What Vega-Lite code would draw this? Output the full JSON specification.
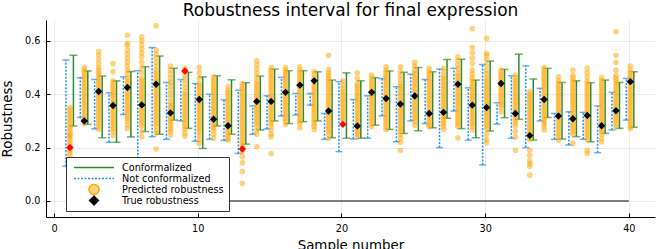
{
"$schema":"https://vega.github.io/schema/vega-lite/v6.json",
"width":609,"height":197,
"autosize":{"type":"none"},
"padding":{"left":46,"right":9,"top":20,"bottom":32},
"background":"white",
"title":{"text":"Robustness interval for final expression","fontSize":17,"font":"DejaVu Sans","fontWeight":"normal","color":"black","anchor":"middle","offset":0},
"config":{"view":{"stroke":null},"font":"DejaVu Sans",
 "axis":{"grid":true,"gridColor":"#e6e6e6","gridWidth":0.8,"domainColor":"black","domainWidth":1,"tickColor":"black","tickSize":-4,"labelPadding":10,"labelFontSize":9.7,"labelColor":"black","labelFont":"DejaVu Sans","titleFont":"DejaVu Sans","titleFontSize":13.4,"titleFontWeight":"normal","titleColor":"black","labelFlush":false}},
"datasets":{
"zero":[{"s":1,"y":0},{"s":40,"y":0}],
"iv":[
{"s":1,"blo":0.13,"bhi":0.528,"glo":0.281,"ghi":0.546,"t":0.2,"red":1},
{"s":2,"blo":0.313,"bhi":0.462,"glo":0.287,"ghi":0.487,"t":0.3,"red":0},
{"s":3,"blo":0.27,"bhi":0.455,"glo":0.237,"ghi":0.468,"t":0.41,"red":0},
{"s":4,"blo":0.22,"bhi":0.405,"glo":0.22,"ghi":0.45,"t":0.358,"red":0},
{"s":5,"blo":0.324,"bhi":0.465,"glo":0.24,"ghi":0.485,"t":0.425,"red":0},
{"s":6,"blo":0.12,"bhi":0.488,"glo":0.26,"ghi":0.503,"t":0.36,"red":0},
{"s":7,"blo":0.241,"bhi":0.575,"glo":0.25,"ghi":0.543,"t":0.437,"red":0},
{"s":8,"blo":0.231,"bhi":0.444,"glo":0.303,"ghi":0.497,"t":0.33,"red":0},
{"s":9,"blo":0.3,"bhi":0.455,"glo":0.272,"ghi":0.482,"t":0.487,"red":1},
{"s":10,"blo":0.224,"bhi":0.44,"glo":0.197,"ghi":0.465,"t":0.38,"red":0},
{"s":11,"blo":0.231,"bhi":0.4,"glo":0.281,"ghi":0.469,"t":0.306,"red":0},
{"s":12,"blo":0.227,"bhi":0.379,"glo":0.25,"ghi":0.454,"t":0.282,"red":0},
{"s":13,"blo":0.178,"bhi":0.415,"glo":0.213,"ghi":0.443,"t":0.195,"red":1},
{"s":14,"blo":0.25,"bhi":0.356,"glo":0.266,"ghi":0.468,"t":0.373,"red":0},
{"s":15,"blo":0.27,"bhi":0.394,"glo":0.3,"ghi":0.494,"t":0.373,"red":0},
{"s":16,"blo":0.318,"bhi":0.463,"glo":0.29,"ghi":0.488,"t":0.407,"red":0},
{"s":17,"blo":0.322,"bhi":0.403,"glo":0.297,"ghi":0.488,"t":0.434,"red":0},
{"s":18,"blo":0.359,"bhi":0.403,"glo":0.3,"ghi":0.484,"t":0.45,"red":0},
{"s":19,"blo":0.231,"bhi":0.328,"glo":0.237,"ghi":0.453,"t":0.337,"red":0},
{"s":20,"blo":0.185,"bhi":0.447,"glo":0.235,"ghi":0.48,"t":0.287,"red":1},
{"s":21,"blo":0.232,"bhi":0.38,"glo":0.235,"ghi":0.45,"t":0.281,"red":0},
{"s":22,"blo":0.235,"bhi":0.394,"glo":0.284,"ghi":0.462,"t":0.407,"red":0},
{"s":23,"blo":0.319,"bhi":0.459,"glo":0.268,"ghi":0.487,"t":0.384,"red":0},
{"s":24,"blo":0.222,"bhi":0.428,"glo":0.253,"ghi":0.482,"t":0.363,"red":0},
{"s":25,"blo":0.3,"bhi":0.475,"glo":0.263,"ghi":0.5,"t":0.393,"red":0},
{"s":26,"blo":0.29,"bhi":0.455,"glo":0.274,"ghi":0.484,"t":0.328,"red":0},
{"s":27,"blo":0.2,"bhi":0.494,"glo":0.31,"ghi":0.53,"t":0.332,"red":0},
{"s":28,"blo":0.337,"bhi":0.497,"glo":0.271,"ghi":0.531,"t":0.437,"red":0},
{"s":29,"blo":0.228,"bhi":0.424,"glo":0.237,"ghi":0.453,"t":0.359,"red":0},
{"s":30,"blo":0.135,"bhi":0.511,"glo":0.262,"ghi":0.524,"t":0.35,"red":0},
{"s":31,"blo":0.288,"bhi":0.368,"glo":0.312,"ghi":0.493,"t":0.44,"red":0},
{"s":32,"blo":0.235,"bhi":0.469,"glo":0.306,"ghi":0.55,"t":0.328,"red":0},
{"s":33,"blo":0.2,"bhi":0.506,"glo":0.228,"ghi":0.457,"t":0.245,"red":0},
{"s":34,"blo":0.3,"bhi":0.422,"glo":0.313,"ghi":0.497,"t":0.38,"red":0},
{"s":35,"blo":0.231,"bhi":0.328,"glo":0.232,"ghi":0.444,"t":0.318,"red":0},
{"s":36,"blo":0.21,"bhi":0.334,"glo":0.241,"ghi":0.45,"t":0.308,"red":0},
{"s":37,"blo":0.231,"bhi":0.332,"glo":0.222,"ghi":0.443,"t":0.32,"red":0},
{"s":38,"blo":0.181,"bhi":0.356,"glo":0.253,"ghi":0.453,"t":0.282,"red":0},
{"s":39,"blo":0.266,"bhi":0.407,"glo":0.272,"ghi":0.444,"t":0.338,"red":0},
{"s":40,"blo":0.303,"bhi":0.459,"glo":0.276,"ghi":0.484,"t":0.447,"red":0}
],
"pred":[
{"s":1,"v":0.35},{"s":1,"v":0.34},{"s":1,"v":0.33},{"s":1,"v":0.32},{"s":1,"v":0.31},{"s":1,"v":0.30},{"s":1,"v":0.29},{"s":1,"v":0.28},{"s":1,"v":0.27},{"s":1,"v":0.26},{"s":1,"v":0.25},{"s":1,"v":0.245},{"s":1,"v":0.24},{"s":1,"v":0.23},{"s":1,"v":0.22},{"s":1,"v":0.21},{"s":1,"v":0.20},{"s":1,"v":0.19},{"s":1,"v":0.18},{"s":1,"v":0.17},
{"s":2,"v":0.50},{"s":2,"v":0.49},{"s":2,"v":0.48},{"s":2,"v":0.47},{"s":2,"v":0.46},{"s":2,"v":0.45},{"s":2,"v":0.44},{"s":2,"v":0.43},{"s":2,"v":0.42},{"s":2,"v":0.41},{"s":2,"v":0.40},{"s":2,"v":0.39},{"s":2,"v":0.38},{"s":2,"v":0.37},{"s":2,"v":0.36},{"s":2,"v":0.35},{"s":2,"v":0.34},{"s":2,"v":0.33},{"s":2,"v":0.32},{"s":2,"v":0.31},{"s":2,"v":0.30},{"s":2,"v":0.29},
{"s":3,"v":0.56},{"s":3,"v":0.547},{"s":3,"v":0.53},{"s":3,"v":0.515},{"s":3,"v":0.50},{"s":3,"v":0.49},{"s":3,"v":0.48},{"s":3,"v":0.47},{"s":3,"v":0.46},{"s":3,"v":0.45},{"s":3,"v":0.44},{"s":3,"v":0.43},{"s":3,"v":0.42},{"s":3,"v":0.41},{"s":3,"v":0.40},{"s":3,"v":0.39},{"s":3,"v":0.38},{"s":3,"v":0.37},{"s":3,"v":0.36},{"s":3,"v":0.35},{"s":3,"v":0.34},{"s":3,"v":0.33},{"s":3,"v":0.32},{"s":3,"v":0.31},{"s":3,"v":0.30},{"s":3,"v":0.29},{"s":3,"v":0.28},{"s":3,"v":0.268},
{"s":4,"v":0.515},{"s":4,"v":0.484},{"s":4,"v":0.45},{"s":4,"v":0.44},{"s":4,"v":0.43},{"s":4,"v":0.42},{"s":4,"v":0.41},{"s":4,"v":0.40},{"s":4,"v":0.39},{"s":4,"v":0.38},{"s":4,"v":0.37},{"s":4,"v":0.36},{"s":4,"v":0.35},{"s":4,"v":0.34},{"s":4,"v":0.33},{"s":4,"v":0.32},{"s":4,"v":0.31},{"s":4,"v":0.30},{"s":4,"v":0.29},{"s":4,"v":0.28},{"s":4,"v":0.27},{"s":4,"v":0.26},{"s":4,"v":0.245},
{"s":5,"v":0.621},{"s":5,"v":0.59},{"s":5,"v":0.584},{"s":5,"v":0.565},{"s":5,"v":0.55},{"s":5,"v":0.535},{"s":5,"v":0.52},{"s":5,"v":0.505},{"s":5,"v":0.49},{"s":5,"v":0.475},{"s":5,"v":0.46},{"s":5,"v":0.45},{"s":5,"v":0.44},{"s":5,"v":0.43},{"s":5,"v":0.42},{"s":5,"v":0.41},{"s":5,"v":0.40},{"s":5,"v":0.39},{"s":5,"v":0.38},{"s":5,"v":0.37},{"s":5,"v":0.36},{"s":5,"v":0.35},{"s":5,"v":0.34},{"s":5,"v":0.33},{"s":5,"v":0.32},{"s":5,"v":0.31},{"s":5,"v":0.30},{"s":5,"v":0.285},{"s":5,"v":0.272},
{"s":6,"v":0.615},{"s":6,"v":0.60},{"s":6,"v":0.585},{"s":6,"v":0.57},{"s":6,"v":0.555},{"s":6,"v":0.54},{"s":6,"v":0.52},{"s":6,"v":0.50},{"s":6,"v":0.48},{"s":6,"v":0.46},{"s":6,"v":0.45},{"s":6,"v":0.44},{"s":6,"v":0.43},{"s":6,"v":0.42},{"s":6,"v":0.41},{"s":6,"v":0.40},{"s":6,"v":0.39},{"s":6,"v":0.38},{"s":6,"v":0.37},{"s":6,"v":0.36},{"s":6,"v":0.35},{"s":6,"v":0.34},{"s":6,"v":0.33},{"s":6,"v":0.32},{"s":6,"v":0.31},{"s":6,"v":0.30},{"s":6,"v":0.29},{"s":6,"v":0.28},{"s":6,"v":0.26},{"s":6,"v":0.24},
{"s":7,"v":0.656},{"s":7,"v":0.565},{"s":7,"v":0.55},{"s":7,"v":0.535},{"s":7,"v":0.52},{"s":7,"v":0.505},{"s":7,"v":0.49},{"s":7,"v":0.48},{"s":7,"v":0.47},{"s":7,"v":0.46},{"s":7,"v":0.45},{"s":7,"v":0.44},{"s":7,"v":0.43},{"s":7,"v":0.42},{"s":7,"v":0.41},{"s":7,"v":0.40},{"s":7,"v":0.39},{"s":7,"v":0.38},{"s":7,"v":0.37},{"s":7,"v":0.36},{"s":7,"v":0.35},{"s":7,"v":0.34},{"s":7,"v":0.33},{"s":7,"v":0.32},{"s":7,"v":0.31},{"s":7,"v":0.30},{"s":7,"v":0.29},{"s":7,"v":0.28},{"s":7,"v":0.265},{"s":7,"v":0.253},{"s":7,"v":0.195},
{"s":8,"v":0.505},{"s":8,"v":0.49},{"s":8,"v":0.475},{"s":8,"v":0.46},{"s":8,"v":0.445},{"s":8,"v":0.43},{"s":8,"v":0.415},{"s":8,"v":0.40},{"s":8,"v":0.385},{"s":8,"v":0.37},{"s":8,"v":0.36},{"s":8,"v":0.35},{"s":8,"v":0.34},{"s":8,"v":0.33},{"s":8,"v":0.32},{"s":8,"v":0.31},{"s":8,"v":0.30},{"s":8,"v":0.29},{"s":8,"v":0.28},{"s":8,"v":0.27},{"s":8,"v":0.26},{"s":8,"v":0.247},
{"s":9,"v":0.497},{"s":9,"v":0.485},{"s":9,"v":0.47},{"s":9,"v":0.455},{"s":9,"v":0.44},{"s":9,"v":0.425},{"s":9,"v":0.41},{"s":9,"v":0.40},{"s":9,"v":0.39},{"s":9,"v":0.38},{"s":9,"v":0.37},{"s":9,"v":0.36},{"s":9,"v":0.35},{"s":9,"v":0.34},{"s":9,"v":0.33},{"s":9,"v":0.32},{"s":9,"v":0.31},{"s":9,"v":0.30},{"s":9,"v":0.29},{"s":9,"v":0.28},{"s":9,"v":0.27},{"s":9,"v":0.255},{"s":9,"v":0.243},
{"s":10,"v":0.50},{"s":10,"v":0.48},{"s":10,"v":0.46},{"s":10,"v":0.44},{"s":10,"v":0.43},{"s":10,"v":0.42},{"s":10,"v":0.41},{"s":10,"v":0.40},{"s":10,"v":0.39},{"s":10,"v":0.38},{"s":10,"v":0.37},{"s":10,"v":0.36},{"s":10,"v":0.35},{"s":10,"v":0.34},{"s":10,"v":0.33},{"s":10,"v":0.32},{"s":10,"v":0.31},{"s":10,"v":0.30},{"s":10,"v":0.29},{"s":10,"v":0.28},{"s":10,"v":0.27},{"s":10,"v":0.26},{"s":10,"v":0.245},{"s":10,"v":0.23},{"s":10,"v":0.216},
{"s":11,"v":0.465},{"s":11,"v":0.455},{"s":11,"v":0.445},{"s":11,"v":0.435},{"s":11,"v":0.425},{"s":11,"v":0.415},{"s":11,"v":0.405},{"s":11,"v":0.395},{"s":11,"v":0.385},{"s":11,"v":0.375},{"s":11,"v":0.365},{"s":11,"v":0.355},{"s":11,"v":0.345},{"s":11,"v":0.335},{"s":11,"v":0.325},{"s":11,"v":0.315},{"s":11,"v":0.305},{"s":11,"v":0.295},{"s":11,"v":0.285},{"s":11,"v":0.275},{"s":11,"v":0.265},{"s":11,"v":0.25},{"s":11,"v":0.235},
{"s":12,"v":0.428},{"s":12,"v":0.415},{"s":12,"v":0.405},{"s":12,"v":0.395},{"s":12,"v":0.385},{"s":12,"v":0.375},{"s":12,"v":0.365},{"s":12,"v":0.355},{"s":12,"v":0.345},{"s":12,"v":0.335},{"s":12,"v":0.325},{"s":12,"v":0.315},{"s":12,"v":0.305},{"s":12,"v":0.295},{"s":12,"v":0.285},{"s":12,"v":0.275},{"s":12,"v":0.265},{"s":12,"v":0.255},{"s":12,"v":0.245},{"s":12,"v":0.235},{"s":12,"v":0.228},
{"s":13,"v":0.44},{"s":13,"v":0.43},{"s":13,"v":0.42},{"s":13,"v":0.41},{"s":13,"v":0.40},{"s":13,"v":0.39},{"s":13,"v":0.38},{"s":13,"v":0.37},{"s":13,"v":0.36},{"s":13,"v":0.35},{"s":13,"v":0.34},{"s":13,"v":0.33},{"s":13,"v":0.32},{"s":13,"v":0.31},{"s":13,"v":0.30},{"s":13,"v":0.29},{"s":13,"v":0.28},{"s":13,"v":0.27},{"s":13,"v":0.26},{"s":13,"v":0.25},{"s":13,"v":0.24},{"s":13,"v":0.23},{"s":13,"v":0.22},{"s":13,"v":0.21},{"s":13,"v":0.20},{"s":13,"v":0.185},{"s":13,"v":0.166},{"s":13,"v":0.143},{"s":13,"v":0.11},{"s":13,"v":0.066},
{"s":14,"v":0.525},{"s":14,"v":0.51},{"s":14,"v":0.495},{"s":14,"v":0.48},{"s":14,"v":0.465},{"s":14,"v":0.45},{"s":14,"v":0.44},{"s":14,"v":0.43},{"s":14,"v":0.42},{"s":14,"v":0.41},{"s":14,"v":0.40},{"s":14,"v":0.39},{"s":14,"v":0.38},{"s":14,"v":0.37},{"s":14,"v":0.36},{"s":14,"v":0.35},{"s":14,"v":0.34},{"s":14,"v":0.33},{"s":14,"v":0.32},{"s":14,"v":0.31},{"s":14,"v":0.30},{"s":14,"v":0.29},{"s":14,"v":0.28},{"s":14,"v":0.265},{"s":14,"v":0.25},{"s":14,"v":0.203},
{"s":15,"v":0.50},{"s":15,"v":0.49},{"s":15,"v":0.48},{"s":15,"v":0.47},{"s":15,"v":0.46},{"s":15,"v":0.45},{"s":15,"v":0.44},{"s":15,"v":0.43},{"s":15,"v":0.42},{"s":15,"v":0.41},{"s":15,"v":0.40},{"s":15,"v":0.39},{"s":15,"v":0.38},{"s":15,"v":0.37},{"s":15,"v":0.36},{"s":15,"v":0.35},{"s":15,"v":0.34},{"s":15,"v":0.33},{"s":15,"v":0.32},{"s":15,"v":0.31},{"s":15,"v":0.30},{"s":15,"v":0.29},{"s":15,"v":0.28},{"s":15,"v":0.265},{"s":15,"v":0.25},{"s":15,"v":0.24},{"s":15,"v":0.178},
{"s":16,"v":0.50},{"s":16,"v":0.49},{"s":16,"v":0.48},{"s":16,"v":0.47},{"s":16,"v":0.46},{"s":16,"v":0.45},{"s":16,"v":0.44},{"s":16,"v":0.43},{"s":16,"v":0.42},{"s":16,"v":0.41},{"s":16,"v":0.40},{"s":16,"v":0.39},{"s":16,"v":0.38},{"s":16,"v":0.37},{"s":16,"v":0.36},{"s":16,"v":0.35},{"s":16,"v":0.34},{"s":16,"v":0.33},{"s":16,"v":0.32},{"s":16,"v":0.31},{"s":16,"v":0.30},{"s":16,"v":0.287},
{"s":17,"v":0.503},{"s":17,"v":0.49},{"s":17,"v":0.48},{"s":17,"v":0.47},{"s":17,"v":0.46},{"s":17,"v":0.45},{"s":17,"v":0.44},{"s":17,"v":0.43},{"s":17,"v":0.42},{"s":17,"v":0.41},{"s":17,"v":0.40},{"s":17,"v":0.39},{"s":17,"v":0.38},{"s":17,"v":0.37},{"s":17,"v":0.36},{"s":17,"v":0.35},{"s":17,"v":0.34},{"s":17,"v":0.33},{"s":17,"v":0.32},{"s":17,"v":0.31},{"s":17,"v":0.30},{"s":17,"v":0.29},{"s":17,"v":0.274},
{"s":18,"v":0.484},{"s":18,"v":0.472},{"s":18,"v":0.46},{"s":18,"v":0.45},{"s":18,"v":0.44},{"s":18,"v":0.43},{"s":18,"v":0.42},{"s":18,"v":0.41},{"s":18,"v":0.40},{"s":18,"v":0.39},{"s":18,"v":0.38},{"s":18,"v":0.37},{"s":18,"v":0.36},{"s":18,"v":0.35},{"s":18,"v":0.34},{"s":18,"v":0.33},{"s":18,"v":0.32},{"s":18,"v":0.31},{"s":18,"v":0.30},{"s":18,"v":0.29},{"s":18,"v":0.28},{"s":18,"v":0.268},
{"s":19,"v":0.546},{"s":19,"v":0.493},{"s":19,"v":0.48},{"s":19,"v":0.47},{"s":19,"v":0.46},{"s":19,"v":0.45},{"s":19,"v":0.44},{"s":19,"v":0.43},{"s":19,"v":0.42},{"s":19,"v":0.41},{"s":19,"v":0.40},{"s":19,"v":0.39},{"s":19,"v":0.38},{"s":19,"v":0.37},{"s":19,"v":0.36},{"s":19,"v":0.35},{"s":19,"v":0.34},{"s":19,"v":0.33},{"s":19,"v":0.32},{"s":19,"v":0.31},{"s":19,"v":0.30},{"s":19,"v":0.29},{"s":19,"v":0.28},{"s":19,"v":0.27},{"s":19,"v":0.26},{"s":19,"v":0.25},{"s":19,"v":0.235},
{"s":20,"v":0.45},{"s":20,"v":0.434},{"s":20,"v":0.42},{"s":20,"v":0.41},{"s":20,"v":0.40},{"s":20,"v":0.39},{"s":20,"v":0.38},{"s":20,"v":0.37},{"s":20,"v":0.36},{"s":20,"v":0.35},{"s":20,"v":0.34},{"s":20,"v":0.33},{"s":20,"v":0.32},{"s":20,"v":0.31},{"s":20,"v":0.30},
{"s":21,"v":0.48},{"s":21,"v":0.46},{"s":21,"v":0.44},{"s":21,"v":0.43},{"s":21,"v":0.42},{"s":21,"v":0.41},{"s":21,"v":0.40},{"s":21,"v":0.39},{"s":21,"v":0.38},{"s":21,"v":0.37},{"s":21,"v":0.36},{"s":21,"v":0.35},{"s":21,"v":0.34},{"s":21,"v":0.33},{"s":21,"v":0.32},{"s":21,"v":0.31},{"s":21,"v":0.30},{"s":21,"v":0.29},{"s":21,"v":0.28},{"s":21,"v":0.27},{"s":21,"v":0.26},{"s":21,"v":0.25},{"s":21,"v":0.24},
{"s":22,"v":0.472},{"s":22,"v":0.46},{"s":22,"v":0.45},{"s":22,"v":0.44},{"s":22,"v":0.43},{"s":22,"v":0.42},{"s":22,"v":0.41},{"s":22,"v":0.40},{"s":22,"v":0.39},{"s":22,"v":0.38},{"s":22,"v":0.37},{"s":22,"v":0.36},{"s":22,"v":0.35},{"s":22,"v":0.34},{"s":22,"v":0.33},{"s":22,"v":0.32},{"s":22,"v":0.31},{"s":22,"v":0.30},{"s":22,"v":0.29},{"s":22,"v":0.278},
{"s":23,"v":0.503},{"s":23,"v":0.49},{"s":23,"v":0.48},{"s":23,"v":0.47},{"s":23,"v":0.46},{"s":23,"v":0.45},{"s":23,"v":0.44},{"s":23,"v":0.43},{"s":23,"v":0.42},{"s":23,"v":0.41},{"s":23,"v":0.40},{"s":23,"v":0.39},{"s":23,"v":0.38},{"s":23,"v":0.37},{"s":23,"v":0.36},{"s":23,"v":0.35},{"s":23,"v":0.34},{"s":23,"v":0.33},{"s":23,"v":0.32},{"s":23,"v":0.31},{"s":23,"v":0.30},{"s":23,"v":0.29},{"s":23,"v":0.28},{"s":23,"v":0.268},
{"s":24,"v":0.503},{"s":24,"v":0.485},{"s":24,"v":0.47},{"s":24,"v":0.455},{"s":24,"v":0.44},{"s":24,"v":0.43},{"s":24,"v":0.42},{"s":24,"v":0.41},{"s":24,"v":0.40},{"s":24,"v":0.39},{"s":24,"v":0.38},{"s":24,"v":0.37},{"s":24,"v":0.36},{"s":24,"v":0.35},{"s":24,"v":0.34},{"s":24,"v":0.33},{"s":24,"v":0.32},{"s":24,"v":0.31},{"s":24,"v":0.30},{"s":24,"v":0.29},{"s":24,"v":0.28},{"s":24,"v":0.27},{"s":24,"v":0.26},{"s":24,"v":0.25},{"s":24,"v":0.235},{"s":24,"v":0.22},{"s":24,"v":0.19},
{"s":25,"v":0.519},{"s":25,"v":0.505},{"s":25,"v":0.49},{"s":25,"v":0.48},{"s":25,"v":0.47},{"s":25,"v":0.46},{"s":25,"v":0.45},{"s":25,"v":0.44},{"s":25,"v":0.43},{"s":25,"v":0.42},{"s":25,"v":0.41},{"s":25,"v":0.40},{"s":25,"v":0.39},{"s":25,"v":0.38},{"s":25,"v":0.37},{"s":25,"v":0.36},{"s":25,"v":0.35},{"s":25,"v":0.34},{"s":25,"v":0.33},{"s":25,"v":0.32},{"s":25,"v":0.31},{"s":25,"v":0.30},{"s":25,"v":0.284},
{"s":26,"v":0.497},{"s":26,"v":0.485},{"s":26,"v":0.475},{"s":26,"v":0.465},{"s":26,"v":0.455},{"s":26,"v":0.445},{"s":26,"v":0.435},{"s":26,"v":0.425},{"s":26,"v":0.415},{"s":26,"v":0.405},{"s":26,"v":0.395},{"s":26,"v":0.385},{"s":26,"v":0.375},{"s":26,"v":0.365},{"s":26,"v":0.355},{"s":26,"v":0.345},{"s":26,"v":0.335},{"s":26,"v":0.325},{"s":26,"v":0.315},{"s":26,"v":0.305},{"s":26,"v":0.295},{"s":26,"v":0.285},{"s":26,"v":0.278},
{"s":27,"v":0.497},{"s":27,"v":0.485},{"s":27,"v":0.47},{"s":27,"v":0.46},{"s":27,"v":0.45},{"s":27,"v":0.44},{"s":27,"v":0.43},{"s":27,"v":0.42},{"s":27,"v":0.41},{"s":27,"v":0.40},{"s":27,"v":0.39},{"s":27,"v":0.38},{"s":27,"v":0.37},{"s":27,"v":0.36},{"s":27,"v":0.35},{"s":27,"v":0.34},{"s":27,"v":0.33},{"s":27,"v":0.32},{"s":27,"v":0.31},{"s":27,"v":0.30},{"s":27,"v":0.29},{"s":27,"v":0.28},{"s":27,"v":0.268},
{"s":28,"v":0.54},{"s":28,"v":0.525},{"s":28,"v":0.51},{"s":28,"v":0.495},{"s":28,"v":0.48},{"s":28,"v":0.47},{"s":28,"v":0.46},{"s":28,"v":0.45},{"s":28,"v":0.44},{"s":28,"v":0.43},{"s":28,"v":0.42},{"s":28,"v":0.41},{"s":28,"v":0.40},{"s":28,"v":0.39},{"s":28,"v":0.38},{"s":28,"v":0.37},{"s":28,"v":0.36},{"s":28,"v":0.35},{"s":28,"v":0.34},{"s":28,"v":0.33},{"s":28,"v":0.32},{"s":28,"v":0.31},{"s":28,"v":0.30},{"s":28,"v":0.29},{"s":28,"v":0.28},{"s":28,"v":0.237},
{"s":29,"v":0.646},{"s":29,"v":0.575},{"s":29,"v":0.555},{"s":29,"v":0.535},{"s":29,"v":0.515},{"s":29,"v":0.49},{"s":29,"v":0.475},{"s":29,"v":0.46},{"s":29,"v":0.45},{"s":29,"v":0.44},{"s":29,"v":0.43},{"s":29,"v":0.42},{"s":29,"v":0.41},{"s":29,"v":0.40},{"s":29,"v":0.39},{"s":29,"v":0.38},{"s":29,"v":0.37},{"s":29,"v":0.36},{"s":29,"v":0.35},{"s":29,"v":0.34},{"s":29,"v":0.33},{"s":29,"v":0.32},{"s":29,"v":0.31},{"s":29,"v":0.30},{"s":29,"v":0.29},{"s":29,"v":0.28},{"s":29,"v":0.266},
{"s":30,"v":0.609},{"s":30,"v":0.553},{"s":30,"v":0.545},{"s":30,"v":0.53},{"s":30,"v":0.51},{"s":30,"v":0.49},{"s":30,"v":0.475},{"s":30,"v":0.46},{"s":30,"v":0.45},{"s":30,"v":0.44},{"s":30,"v":0.43},{"s":30,"v":0.42},{"s":30,"v":0.41},{"s":30,"v":0.40},{"s":30,"v":0.39},{"s":30,"v":0.38},{"s":30,"v":0.37},{"s":30,"v":0.36},{"s":30,"v":0.35},{"s":30,"v":0.34},{"s":30,"v":0.33},{"s":30,"v":0.32},{"s":30,"v":0.31},{"s":30,"v":0.30},{"s":30,"v":0.29},{"s":30,"v":0.28},{"s":30,"v":0.27},{"s":30,"v":0.25},{"s":30,"v":0.23},{"s":30,"v":0.218},
{"s":31,"v":0.49},{"s":31,"v":0.48},{"s":31,"v":0.47},{"s":31,"v":0.46},{"s":31,"v":0.45},{"s":31,"v":0.44},{"s":31,"v":0.43},{"s":31,"v":0.42},{"s":31,"v":0.41},{"s":31,"v":0.40},{"s":31,"v":0.39},{"s":31,"v":0.38},{"s":31,"v":0.37},{"s":31,"v":0.36},{"s":31,"v":0.35},{"s":31,"v":0.334},
{"s":32,"v":0.472},{"s":32,"v":0.46},{"s":32,"v":0.45},{"s":32,"v":0.44},{"s":32,"v":0.43},{"s":32,"v":0.42},{"s":32,"v":0.41},{"s":32,"v":0.40},{"s":32,"v":0.39},{"s":32,"v":0.38},{"s":32,"v":0.37},{"s":32,"v":0.36},{"s":32,"v":0.35},{"s":32,"v":0.34},{"s":32,"v":0.33},{"s":32,"v":0.32},{"s":32,"v":0.31},{"s":32,"v":0.30},{"s":32,"v":0.29},{"s":32,"v":0.28},{"s":32,"v":0.26},{"s":32,"v":0.24},{"s":32,"v":0.19},
{"s":33,"v":0.41},{"s":33,"v":0.40},{"s":33,"v":0.39},{"s":33,"v":0.38},{"s":33,"v":0.37},{"s":33,"v":0.36},{"s":33,"v":0.35},{"s":33,"v":0.34},{"s":33,"v":0.33},{"s":33,"v":0.32},{"s":33,"v":0.31},{"s":33,"v":0.30},{"s":33,"v":0.29},{"s":33,"v":0.28},{"s":33,"v":0.27},{"s":33,"v":0.26},{"s":33,"v":0.25},{"s":33,"v":0.24},{"s":33,"v":0.23},{"s":33,"v":0.19},{"s":33,"v":0.17},{"s":33,"v":0.15},{"s":33,"v":0.14},{"s":33,"v":0.13},{"s":33,"v":0.097},
{"s":34,"v":0.50},{"s":34,"v":0.49},{"s":34,"v":0.48},{"s":34,"v":0.47},{"s":34,"v":0.46},{"s":34,"v":0.45},{"s":34,"v":0.44},{"s":34,"v":0.43},{"s":34,"v":0.42},{"s":34,"v":0.41},{"s":34,"v":0.40},{"s":34,"v":0.39},{"s":34,"v":0.38},{"s":34,"v":0.37},{"s":34,"v":0.36},{"s":34,"v":0.35},{"s":34,"v":0.34},{"s":34,"v":0.33},{"s":34,"v":0.32},{"s":34,"v":0.31},{"s":34,"v":0.30},{"s":34,"v":0.29},{"s":34,"v":0.28},{"s":34,"v":0.266},
{"s":35,"v":0.465},{"s":35,"v":0.45},{"s":35,"v":0.44},{"s":35,"v":0.43},{"s":35,"v":0.42},{"s":35,"v":0.41},{"s":35,"v":0.40},{"s":35,"v":0.39},{"s":35,"v":0.38},{"s":35,"v":0.37},{"s":35,"v":0.36},{"s":35,"v":0.35},{"s":35,"v":0.34},{"s":35,"v":0.33},{"s":35,"v":0.32},{"s":35,"v":0.31},{"s":35,"v":0.30},{"s":35,"v":0.29},{"s":35,"v":0.28},{"s":35,"v":0.27},{"s":35,"v":0.26},{"s":35,"v":0.25},{"s":35,"v":0.24},{"s":35,"v":0.228},
{"s":36,"v":0.49},{"s":36,"v":0.47},{"s":36,"v":0.46},{"s":36,"v":0.45},{"s":36,"v":0.44},{"s":36,"v":0.43},{"s":36,"v":0.42},{"s":36,"v":0.41},{"s":36,"v":0.40},{"s":36,"v":0.39},{"s":36,"v":0.38},{"s":36,"v":0.37},{"s":36,"v":0.36},{"s":36,"v":0.35},{"s":36,"v":0.34},{"s":36,"v":0.33},{"s":36,"v":0.32},{"s":36,"v":0.31},{"s":36,"v":0.30},{"s":36,"v":0.29},{"s":36,"v":0.28},{"s":36,"v":0.27},{"s":36,"v":0.26},{"s":36,"v":0.25},{"s":36,"v":0.216},
{"s":37,"v":0.497},{"s":37,"v":0.48},{"s":37,"v":0.465},{"s":37,"v":0.45},{"s":37,"v":0.44},{"s":37,"v":0.43},{"s":37,"v":0.42},{"s":37,"v":0.41},{"s":37,"v":0.40},{"s":37,"v":0.39},{"s":37,"v":0.38},{"s":37,"v":0.37},{"s":37,"v":0.36},{"s":37,"v":0.35},{"s":37,"v":0.34},{"s":37,"v":0.33},{"s":37,"v":0.32},{"s":37,"v":0.31},{"s":37,"v":0.30},{"s":37,"v":0.29},{"s":37,"v":0.28},{"s":37,"v":0.27},{"s":37,"v":0.26},{"s":37,"v":0.25},{"s":37,"v":0.24},{"s":37,"v":0.23},{"s":37,"v":0.19},{"s":37,"v":0.178},
{"s":38,"v":0.463},{"s":38,"v":0.45},{"s":38,"v":0.44},{"s":38,"v":0.43},{"s":38,"v":0.42},{"s":38,"v":0.41},{"s":38,"v":0.40},{"s":38,"v":0.39},{"s":38,"v":0.38},{"s":38,"v":0.37},{"s":38,"v":0.36},{"s":38,"v":0.35},{"s":38,"v":0.34},{"s":38,"v":0.33},{"s":38,"v":0.32},{"s":38,"v":0.31},{"s":38,"v":0.30},{"s":38,"v":0.29},{"s":38,"v":0.28},{"s":38,"v":0.27},{"s":38,"v":0.26},{"s":38,"v":0.25},{"s":38,"v":0.235},{"s":38,"v":0.222},
{"s":39,"v":0.634},{"s":39,"v":0.546},{"s":39,"v":0.52},{"s":39,"v":0.49},{"s":39,"v":0.47},{"s":39,"v":0.46},{"s":39,"v":0.45},{"s":39,"v":0.44},{"s":39,"v":0.43},{"s":39,"v":0.42},{"s":39,"v":0.41},{"s":39,"v":0.40},{"s":39,"v":0.39},{"s":39,"v":0.38},{"s":39,"v":0.37},{"s":39,"v":0.36},{"s":39,"v":0.35},{"s":39,"v":0.34},{"s":39,"v":0.33},{"s":39,"v":0.32},{"s":39,"v":0.31},{"s":39,"v":0.30},{"s":39,"v":0.29},{"s":39,"v":0.278},
{"s":40,"v":0.505},{"s":40,"v":0.49},{"s":40,"v":0.48},{"s":40,"v":0.47},{"s":40,"v":0.46},{"s":40,"v":0.45},{"s":40,"v":0.44},{"s":40,"v":0.43},{"s":40,"v":0.42},{"s":40,"v":0.41},{"s":40,"v":0.40},{"s":40,"v":0.39},{"s":40,"v":0.38},{"s":40,"v":0.37},{"s":40,"v":0.36},{"s":40,"v":0.35},{"s":40,"v":0.34},{"s":40,"v":0.33},{"s":40,"v":0.32},{"s":40,"v":0.31},{"s":40,"v":0.30},{"s":40,"v":0.29},{"s":40,"v":0.28},{"s":40,"v":0.272}
]},
"layer":[
{"data":{"name":"zero"},"mark":{"type":"line","color":"#555555","strokeWidth":1.5},
 "encoding":{
  "x":{"field":"s","type":"quantitative","scale":{"domain":[-0.56,41.82],"nice":false,"zero":false},"axis":{"title":"Sample number","values":[0,10,20,30,40],"format":"d","titlePadding":6}},
  "y":{"field":"y","type":"quantitative","scale":{"domain":[-0.06,0.678],"nice":false,"zero":false},"axis":{"title":"Robustness","values":[0,0.1,0.2,0.3,0.4,0.5,0.6],"format":".1f","titlePadding":10}}}},
{"data":{"name":"iv"},"mark":{"type":"rule","strokeWidth":1.5,"xOffset":5},
 "encoding":{"x":{"field":"s","type":"quantitative"},"y":{"field":"glo","type":"quantitative"},"y2":{"field":"ghi"},
  "color":{"datum":"Conformalized","type":"nominal","scale":{"domain":["Conformalized","Not conformalized","Predicted robustness","True robustness"],"range":["#2e8b2e","#1e90ff","#ffa500","#000000"]},
   "legend":{"title":null,"orient":"none","legendX":20,"legendY":137,"symbolType":"stroke","symbolSize":1600,"symbolStrokeWidth":1.5,"labelFontSize":9.7,"labelFont":"DejaVu Sans","labelColor":"black","padding":5,"symbolOffset":2,"labelOffset":7,"clipHeight":11,"rowPadding":0,"strokeColor":"#333333","fillColor":"white","cornerRadius":0,
    "encode":{"symbols":{"update":{
     "shape":{"signal":"datum.value === 'Predicted robustness' ? 'circle' : datum.value === 'True robustness' ? 'diamond' : 'stroke'"},
     "size":{"signal":"datum.value === 'Predicted robustness' ? 100 : datum.value === 'True robustness' ? 75 : 1600"},
     "fill":{"signal":"datum.value === 'Predicted robustness' ? 'rgba(255,165,0,0.5)' : datum.value === 'True robustness' ? 'black' : 'transparent'"},
     "stroke":{"signal":"datum.value === 'Conformalized' ? '#2e8b2e' : datum.value === 'Not conformalized' ? '#1e90ff' : 'transparent'"},
     "strokeDash":{"signal":"datum.value === 'Not conformalized' ? [2,1.5] : [1,0]"},
     "strokeWidth":{"value":1.5},
     "opacity":{"value":1}}}}}}}},
{"data":{"name":"iv"},"mark":{"type":"tick","orient":"horizontal","size":8,"thickness":1.5,"xOffset":5,"color":"#2e8b2e"},
 "encoding":{"x":{"field":"s","type":"quantitative"},"y":{"field":"glo","type":"quantitative"}}},
{"data":{"name":"iv"},"mark":{"type":"tick","orient":"horizontal","size":8,"thickness":1.5,"xOffset":5,"color":"#2e8b2e"},
 "encoding":{"x":{"field":"s","type":"quantitative"},"y":{"field":"ghi","type":"quantitative"}}},
{"data":{"name":"iv"},"mark":{"type":"rule","strokeWidth":1.5,"xOffset":-2.5,"color":"#1e90ff","strokeDash":[2,1.5]},
 "encoding":{"x":{"field":"s","type":"quantitative"},"y":{"field":"blo","type":"quantitative"},"y2":{"field":"bhi"}}},
{"data":{"name":"iv"},"mark":{"type":"tick","orient":"horizontal","size":7,"thickness":1.5,"xOffset":-2.5,"color":"#1e90ff"},
 "encoding":{"x":{"field":"s","type":"quantitative"},"y":{"field":"blo","type":"quantitative"}}},
{"data":{"name":"iv"},"mark":{"type":"tick","orient":"horizontal","size":7,"thickness":1.5,"xOffset":-2.5,"color":"#1e90ff"},
 "encoding":{"x":{"field":"s","type":"quantitative"},"y":{"field":"bhi","type":"quantitative"}}},
{"data":{"name":"pred"},"mark":{"type":"circle","size":32,"opacity":0.5,"color":"#ffa500","xOffset":1.5},
 "encoding":{"x":{"field":"s","type":"quantitative"},"y":{"field":"v","type":"quantitative"}}},
{"data":{"name":"iv"},"mark":{"type":"point","shape":"diamond","filled":true,"size":55,"opacity":1,"xOffset":1.5},
 "encoding":{"x":{"field":"s","type":"quantitative"},"y":{"field":"t","type":"quantitative"},
  "color":{"condition":{"test":"datum.red == 1","value":"#ff0000"},"value":"#000000"}}}
]
}
